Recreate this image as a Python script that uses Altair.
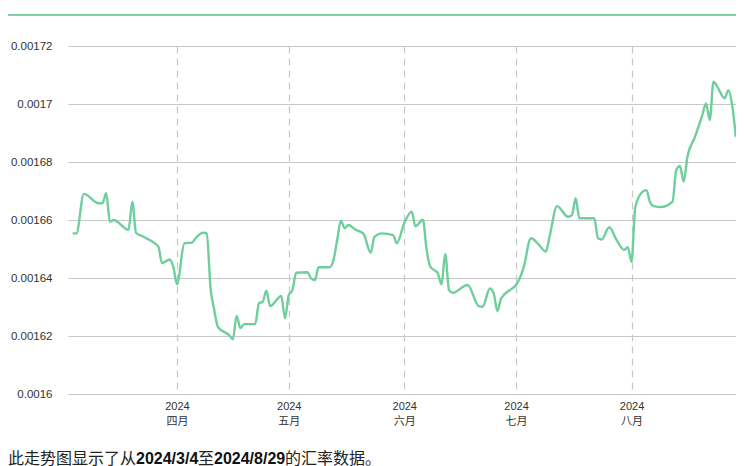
import json
import altair as alt
import pandas as pd

# ---- data ----
dates = [
    "2024-03-04", "2024-03-05", "2024-03-07", "2024-03-11", "2024-03-12", "2024-03-13",
    "2024-03-14", "2024-03-15", "2024-03-19", "2024-03-20", "2024-03-21", "2024-03-23",
    "2024-03-26", "2024-03-27", "2024-03-28", "2024-03-30", "2024-03-31", "2024-04-01",
    "2024-04-03", "2024-04-05", "2024-04-06", "2024-04-08", "2024-04-09", "2024-04-10",
    "2024-04-11", "2024-04-12", "2024-04-15", "2024-04-16", "2024-04-17", "2024-04-18",
    "2024-04-19", "2024-04-22", "2024-04-23", "2024-04-24", "2024-04-25", "2024-04-26",
    "2024-04-29", "2024-04-30", "2024-05-01", "2024-05-02", "2024-05-03", "2024-05-06",
    "2024-05-07", "2024-05-08", "2024-05-09", "2024-05-12", "2024-05-13", "2024-05-14",
    "2024-05-15", "2024-05-16", "2024-05-17", "2024-05-19", "2024-05-21", "2024-05-23",
    "2024-05-24", "2024-05-26", "2024-05-29", "2024-05-30", "2024-06-01", "2024-06-03",
    "2024-06-04", "2024-06-06", "2024-06-07", "2024-06-08", "2024-06-10", "2024-06-11",
    "2024-06-12", "2024-06-13", "2024-06-14", "2024-06-18", "2024-06-21", "2024-06-22",
    "2024-06-24", "2024-06-25", "2024-06-26", "2024-06-27", "2024-06-30", "2024-07-01",
    "2024-07-03", "2024-07-05", "2024-07-07", "2024-07-09", "2024-07-10", "2024-07-12",
    "2024-07-15", "2024-07-16", "2024-07-17", "2024-07-18", "2024-07-22", "2024-07-23",
    "2024-07-24", "2024-07-26", "2024-07-28", "2024-07-30", "2024-07-31", "2024-08-01",
    "2024-08-02", "2024-08-04", "2024-08-05", "2024-08-06", "2024-08-07", "2024-08-09",
    "2024-08-12", "2024-08-13", "2024-08-14", "2024-08-15", "2024-08-16", "2024-08-18",
    "2024-08-20", "2024-08-21", "2024-08-22", "2024-08-23", "2024-08-24", "2024-08-26",
    "2024-08-27", "2024-08-28", "2024-08-29",
]
rates = [
    0.0016554, 0.0016554, 0.0016690, 0.0016658, 0.0016658, 0.0016692,
    0.0016594, 0.0016600, 0.0016566, 0.0016663, 0.0016556, 0.0016542,
    0.0016520, 0.0016508, 0.0016451, 0.0016464, 0.0016439, 0.0016379,
    0.0016520, 0.0016522, 0.0016537, 0.0016556, 0.0016554, 0.0016366,
    0.0016290, 0.0016231, 0.0016203, 0.0016189, 0.0016269, 0.0016227,
    0.0016241, 0.0016241, 0.0016313, 0.0016318, 0.0016356, 0.0016303,
    0.0016338, 0.0016261, 0.0016341, 0.0016359, 0.0016418, 0.0016420,
    0.0016399, 0.0016393, 0.0016437, 0.0016437, 0.0016462, 0.0016531,
    0.0016598, 0.0016571, 0.0016583, 0.0016566, 0.0016554, 0.0016487,
    0.0016542, 0.0016554, 0.0016548, 0.0016520, 0.0016589, 0.0016629,
    0.0016578, 0.0016601, 0.0016497, 0.0016439, 0.0016416, 0.0016378,
    0.0016483, 0.0016359, 0.0016349, 0.0016376, 0.0016303, 0.0016301,
    0.0016364, 0.0016347, 0.0016286, 0.0016330, 0.0016364, 0.0016376,
    0.0016434, 0.0016537, 0.0016517, 0.0016491, 0.0016542, 0.0016648,
    0.0016611, 0.0016617, 0.0016675, 0.0016606, 0.0016606, 0.0016537,
    0.0016533, 0.0016575, 0.0016531, 0.0016497, 0.0016506, 0.0016456,
    0.0016644, 0.0016698, 0.0016703, 0.0016660, 0.0016648, 0.0016645,
    0.0016663, 0.0016772, 0.0016786, 0.0016732, 0.0016818, 0.0016886,
    0.0016962, 0.0017002, 0.0016945, 0.0017077, 0.0017060, 0.0017020,
    0.0017048, 0.0016997, 0.0016887,
]
tick_dates = ["2024-04-01", "2024-05-01", "2024-06-01", "2024-07-01", "2024-08-01"]
month_names = ["一月", "二月", "三月", "四月", "五月", "六月",
               "七月", "八月", "九月", "十月", "十一月", "十二月"]
y_ticks = [0.0016, 0.00162, 0.00164, 0.00166, 0.00168, 0.0017, 0.00172]
caption_parts = ["此走势图显示了从", "2024/3/4", "至", "2024/8/29", "的汇率数据。"]
caption_bold = [False, True, False, True, False]

# ---- layout ----
PAD_L, PAD_T = 60, 38
W, H = 668, 348
caption_x = [-60, 68, 130, 146, 217]
caption_y = 413
LINE = "#6fcf9c"
GRID = "#c8c8c8"
FONT = "Liberation Sans, Noto Sans CJK SC"


def dt(s, hours=0):
    y, m, d = (int(v) for v in s.split("-"))
    return alt.DateTime(year=y, month=m, date=d, hours=hours, utc=True)


df = pd.DataFrame({"date": dates, "rate": rates})

label_expr = "[utcFormat(datum.value, '%Y'), " + json.dumps(month_names, ensure_ascii=False) + "[utcmonth(datum.value)]]"

x = alt.X(
    "date:T",
    scale=alt.Scale(type="utc", domain=[dt("2024-03-02", 18), dt("2024-08-29", 1)]),
    axis=alt.Axis(
        values=[dt(s) for s in tick_dates],
        labelExpr=label_expr,
        title=None,
        ticks=False,
        domain=False,
        grid=True,
        gridDash=[7, 5],
        gridColor=GRID,
        gridWidth=1.2,
        labelPadding=6,
        labelFontSize=11,
        labelLineHeight=15,
        labelColor="#333333",
        labelFont=FONT,
    ),
)
y = alt.Y(
    "rate:Q",
    scale=alt.Scale(domain=[0.0016, 0.00172], nice=False, zero=False),
    axis=alt.Axis(
        values=y_ticks,
        format="~g",
        title=None,
        ticks=False,
        domain=False,
        grid=True,
        gridColor=GRID,
        gridWidth=1.2,
        labelPadding=16,
        labelFontSize=11.5,
        labelColor="#333333",
        labelFont=FONT,
    ),
)

line = alt.Chart(df).mark_line(color=LINE, strokeWidth=2.4, interpolate="monotone").encode(x=x, y=y)

top_rule = alt.Chart(df).mark_rule(color="#7fd1a6", strokeWidth=1.5).encode(
    x=alt.value(-63), x2=alt.value(W), y=alt.value(-31)
)

caption_layers = []
for i, (t, b) in enumerate(zip(caption_parts, caption_bold)):
    caption_layers.append(
        alt.Chart(pd.DataFrame({"text": [t]})).mark_text(
            align="left", baseline="middle", fontSize=16, font=FONT,
            fontWeight="bold" if b else "normal", color="#111111" if b else "#222222",
        ).encode(x=alt.value(caption_x[i]), y=alt.value(caption_y), text="text:N")
    )

chart = alt.layer(line, top_rule, *caption_layers).properties(
    width=W, height=H,
    autosize=alt.AutoSizeParams(type="none"),
    padding={"left": PAD_L, "top": PAD_T, "right": 0, "bottom": 80},
    background="white",
).configure_view(stroke=None)

chart.save("out.html", embed_options={"renderer": "svg", "actions": False})
